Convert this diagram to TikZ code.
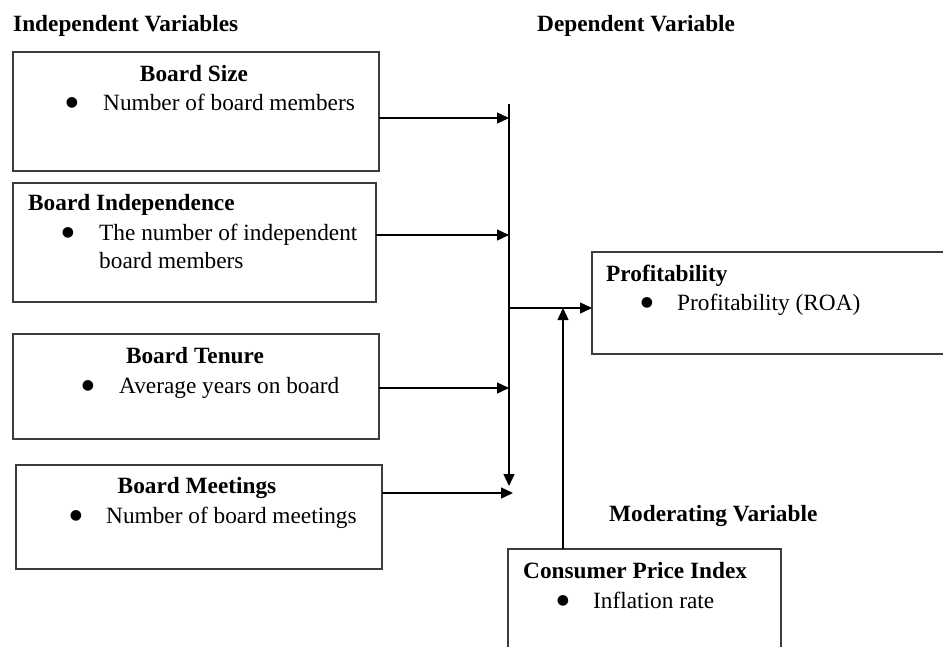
\documentclass[tikz,border=0pt]{standalone}
\usepackage{fontspec}
\setmainfont{Liberation Serif}
\newfontfamily\bulletfont{DejaVu Sans}
\usetikzlibrary{arrows.meta}
\definecolor{boxgray}{RGB}{60,60,60}
\begin{document}
\begin{tikzpicture}[x=1pt,y=-1pt,
  box/.style={draw=boxgray, line width=1.6pt, rectangle, inner sep=0pt, outer sep=0pt, anchor=north west},
  conn/.style={draw=black, line width=1.4pt, -{Triangle[length=12pt,width=11pt]}},
  head/.style={font=\fontsize{23.3}{28}\selectfont\bfseries, inner sep=0pt, anchor=base west},
  headc/.style={head, anchor=base},
  txt/.style={font=\fontsize{23.3}{28}\selectfont, inner sep=0pt, anchor=base west},
  bul/.style={font=\bulletfont\fontsize{14}{14}\selectfont, inner sep=0pt, anchor=center},
]
\useasboundingbox (0,0) rectangle (943,646);
\fill[white] (0,0) rectangle (943,646);
\clip (0,0) rectangle (943,646);

% column headings
\node[head] (hind) at (13,31) {Independent Variables};
\node[head] (hdep) at (537,31) {Dependent Variable};
\node[head] (hmod) at (609,521) {Moderating Variable};

% boxes
\node[box, minimum width=366pt, minimum height=119pt] (size) at (13,52) {};
\node[box, minimum width=363pt, minimum height=119pt] (indep) at (13,183) {};
\node[box, minimum width=366pt, minimum height=105pt] (tenure) at (13,334) {};
\node[box, minimum width=366pt, minimum height=104pt] (meet) at (16,465) {};
\node[box, minimum width=370pt, minimum height=102pt] (prof) at (592,252) {};
\node[box, minimum width=273pt, minimum height=115pt] (cpi) at (508,549) {};

% box contents
\node[headc] (tsize) at (194,81) {Board Size};
\node[bul] (bsize) at (72,103) {●};
\node[txt] (lsize) at (103,110) {Number of board members};

\node[head] (tindep) at (28,210) {Board Independence};
\node[bul] (bindep) at (68,233) {●};
\node[txt] (lindep) at (99,240) {The number of independent};
\node[txt] (lindepb) at (99,268) {board members};

\node[headc] (ttenure) at (195,363) {Board Tenure};
\node[bul] (btenure) at (88,386) {●};
\node[txt] (ltenure) at (119,393) {Average years on board};

\node[headc] (tmeet) at (197,493) {Board Meetings};
\node[bul] (bmeet) at (76,516) {●};
\node[txt] (lmeet) at (106,523) {Number of board meetings};

\node[head] (tprof) at (606,281) {Profitability};
\node[bul] (bprof) at (647,303) {●};
\node[txt] (lprof) at (677,310) {Profitability (ROA)};

\node[head] (tcpi) at (523,578) {Consumer Price Index};
\node[bul] (bcpi) at (563,601) {●};
\node[txt] (lcpi) at (593,608) {Inflation rate};

% junction points on the collecting line
\coordinate (top) at (509,104);
\coordinate (bottom) at (509,486);
\coordinate (j1) at (509,118);
\coordinate (j2) at (509,235);
\coordinate (j3) at (509,388);
\coordinate (j4) at (513,493);
\coordinate (jp) at (509,308);
\coordinate (jm) at (563,308);

% connectors
\draw[conn] (top) -- (bottom);
\draw[conn] (size.east |- j1) -- (j1);
\draw[conn] (indep.east |- j2) -- (j2);
\draw[conn] (tenure.east |- j3) -- (j3);
\draw[conn] (meet.east |- j4) -- (j4);
\draw[conn] (jp) -- (prof.west |- jp);
\draw[conn] (cpi.north -| jm) -- (jm);
\end{tikzpicture}
\end{document}
